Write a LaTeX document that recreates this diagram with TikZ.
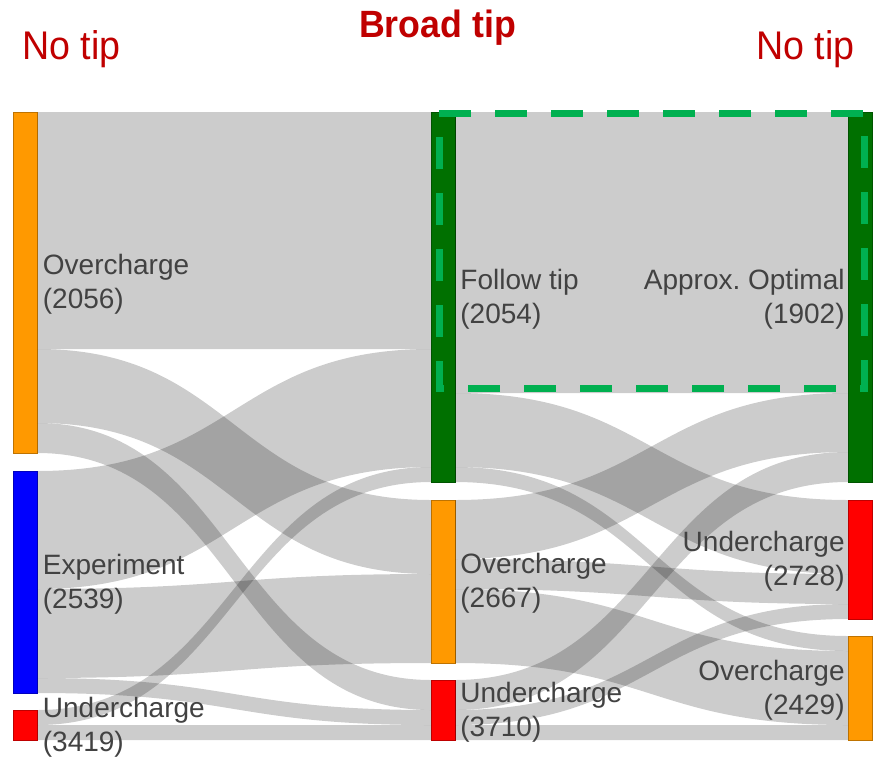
\documentclass[tikz,border=0pt]{standalone}
\usepackage{fontspec}
\setmainfont{Liberation Sans}
\newfontfamily\titlefont[FakeStretch=0.94]{Liberation Sans}
\usetikzlibrary{positioning,calc}
\definecolor{tipred}{RGB}{192,0,0}
\definecolor{ocolor}{RGB}{255,153,0}
\definecolor{ucolor}{RGB}{255,0,0}
\definecolor{ecolor}{RGB}{0,0,255}
\definecolor{fcolor}{RGB}{0,112,0}
\definecolor{boxgreen}{RGB}{0,176,80}
\definecolor{labelgray}{RGB}{66,66,66}
\tikzset{
    bar/.style={draw=#1!75!black, fill=#1, line width=0.4pt, minimum width=12pt, inner sep=0pt, outer sep=0pt},
    band/.style={fill=black, fill opacity=0.2},
    lbl/.style={font=\fontsize{14}{17}\selectfont, text=labelgray, inner sep=0pt, yshift=-1pt},
    tiptitle/.style={text=tipred, inner sep=0pt},
    tip box/.style={draw=boxgreen, line width=3.5pt, dash pattern=on 16pt off 12pt},
}
% band from #1 (offset #2 below its top) to #3 (offset #4), width #5
\newcommand{\flow}[5]{%
    \fill[band] ($(#1.north east)+(0,#2)$) .. controls +(197,0) and +(-197,0) .. ($(#3.north west)+(0,#4)$)
        -- ++(0,#5) .. controls +(-197,0) and +(197,0) .. ($(#1.north east)+(0,#2+#5)$) -- cycle;}

\begin{document}
\begin{tikzpicture}[x=0.5pt,y=-0.5pt]
    \fill[white] (0,0) rectangle (876,771);
    \useasboundingbox (0,0) rectangle (876,771);
    % titles
    \node[tiptitle, font=\titlefont\fontsize{20}{24}\selectfont, anchor=base west] (notipl) at (22,59) {No tip};
    \node[tiptitle, font=\titlefont\bfseries\fontsize{19}{23}\selectfont, anchor=base] (broadtip) at (437.5,37) {Broad tip};
    \node[tiptitle, font=\titlefont\fontsize{20}{24}\selectfont, anchor=base east] (notipr) at (855,59) {No tip};
    % bars
    \node[bar=ocolor, minimum height=170.5pt] (oc1) at (25.5,282.5) {};
    \node[bar=ecolor, minimum height=111pt] (ex1) at (25.5,582) {};
    \node[bar=ucolor, minimum height=15pt] (uc1) at (25.5,725) {};
    \node[bar=fcolor, minimum height=185pt] (ft2) at (443,297) {};
    \node[bar=ocolor, minimum height=81.5pt] (oc2) at (443,581.5) {};
    \node[bar=ucolor, minimum height=30pt] (uc2) at (443,710) {};
    \node[bar=fcolor, minimum height=185pt] (ao3) at (860,297) {};
    \node[bar=ucolor, minimum height=59.5pt] (uc3) at (860,559.5) {};
    \node[bar=ocolor, minimum height=52pt] (oc3) at (860,688) {};
    % flows, no tip -> broad tip
    \flow{oc1}{0}{ft2}{0}{237}
    \flow{oc1}{237}{oc2}{0}{74}
    \flow{oc1}{311}{uc2}{0}{30}
    \flow{ex1}{0}{ft2}{237}{118}
    \flow{ex1}{118}{oc2}{74}{89}
    \flow{ex1}{207}{uc2}{30}{15}
    \flow{uc1}{0}{ft2}{355}{15}
    \flow{uc1}{15}{uc2}{45}{15}
    % flows, broad tip -> no tip
    \flow{ft2}{0}{ao3}{0}{281}
    \flow{ft2}{281}{uc3}{0}{74}
    \flow{ft2}{355}{oc3}{0}{15}
    \flow{oc2}{0}{ao3}{281}{59}
    \flow{oc2}{59}{uc3}{74}{30}
    \flow{oc2}{89}{oc3}{15}{74}
    \flow{uc2}{0}{ao3}{340}{30}
    \flow{uc2}{30}{uc3}{104}{15}
    \flow{uc2}{45}{oc3}{89}{15}
    % labels
    \node[lbl, align=left, right=2.5pt of oc1] (oc1l) {Overcharge\\(2056)};
    \node[lbl, align=left, right=2.5pt of ex1] (ex1l) {Experiment\\(2539)};
    \node[lbl, align=left, right=2.5pt of uc1] (uc1l) {Undercharge\\(3419)};
    \node[lbl, align=left, right=2.5pt of ft2] (ft2l) {Follow tip\\(2054)};
    \node[lbl, align=left, right=2.5pt of oc2] (oc2l) {Overcharge\\(2667)};
    \node[lbl, align=left, right=2.5pt of uc2] (uc2l) {Undercharge\\(3710)};
    \node[lbl, align=right, left=1.5pt of ao3] (ao3l) {Approx.\ Optimal\\(1902)};
    \node[lbl, align=right, left=1.5pt of uc3] (uc3l) {Undercharge\\(2728)};
    \node[lbl, align=right, left=1.5pt of oc3] (oc3l) {Overcharge\\(2429)};
    % highlighted path
    \draw[tip box] (439,113) -- (864,113) -- (864,388) -- (439,388) -- cycle;
\end{tikzpicture}
\end{document}
